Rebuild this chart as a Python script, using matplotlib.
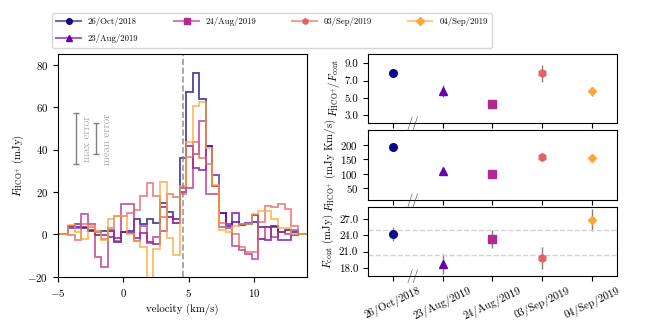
import numpy as np
import matplotlib
matplotlib.use("Agg")
import matplotlib.pyplot as plt
from matplotlib.lines import Line2D
from matplotlib.ticker import FormatStrFormatter

# epochs
dates = ["26/Oct/2018", "23/Aug/2019", "24/Aug/2019", "03/Sep/2019", "04/Sep/2019"]
markers = ["o", "^", "s", "h", "D"]

# HCO+ spectra, channels of 0.5 km/s starting at -4.2 km/s (mJy)
v_start = -4.2
v_width = 0.5
spec_oct18 = [4, 3.5, 3, 1.5, -0.5, 1.5, 1.5, -3.5, 1, 1.5, 7.5, 5, 7.5, 5.5, 15, 10.5, 7.5,
              36, 67, 76, 64, 41.5, 23, 10, 4, 6, 4.5, 5, 6, 3.5, 3.5, 4, 1, 2, 1]
spec_23aug = [3, 5, 3.5, 2, 1, -0.5, -1, -1.5, 1, 0.5, -1.5, 0.5, -3.5, -4.5, 13, 8, 5.5,
              20, 41.5, 31.5, 30.5, 41.5, 28, 10, 5, 10, 5, 5.5, 9, -2, -2.5, 3.5, -2.5, -2.5, -0.5]
spec_24aug = [4, 3, 9.5, 5, -10.5, -15.5, 2, -3, 14.5, 14.5, -3, 4, -4, -1, 1.5, 8, 5.5,
              22, 22, 38, 53.5, 19, 19, 3.5, 3, -5.5, -7.5, -9, -11.5, -2, 3.5, -1, 1, 0, 2]
spec_03sep = [-0.5, -2.5, 5, 3.5, 1.5, -2, 3, 8.5, 8.5, 10, 11.5, 18, 24, 18, 8, 19, 17.5,
              19, 36.5, 43.5, 36, 33, 23, 5.5, 3, 0, -6, -8.5, -8.5, 6, 13.5, 13, 14.5, 12, 4]
spec_04sep = [4.5, 1, -2, 4, 1, -2.5, 7.5, 8.5, 8.5, 0, -3, -6, -25, -7, 24.5, -1.5, -9.5,
              23, 43.5, 60.5, 62.5, 40.5, 23.5, 2, 1, 4, 5, 5, 9.5, 11, 11, 7.5, 3, 3, 0]
spectra = [spec_oct18, spec_23aug, spec_24aug, spec_03sep, spec_04sep]

v_sys = 4.55
max_err = 12.0
mean_err = 7.3
err_level = 45.0

# integrated values per epoch
ratio = [7.9, 5.8, 4.3, 7.85, 5.75]
ratio_err = [0.5, 0.7, 0.35, 1.0, 0.5]
flux = [192, 108, 100, 156, 153]
flux_err = [6, 6, 5, 8, 6]
cont = [24.3, 18.7, 23.3, 19.8, 26.8]
cont_err = [1.3, 1.8, 1.6, 2.1, 2.0]
cont_band = [20.4, 25.0]

plt.rcParams["font.family"] = "serif"
plt.rcParams["font.serif"] = ["cmr10"]
plt.rcParams["mathtext.fontset"] = "cm"
plt.rcParams["axes.formatter.use_mathtext"] = True
plt.rcParams["font.size"] = 7.8
plt.rcParams["axes.unicode_minus"] = True

colors = [plt.cm.plasma(f) for f in [0.0, 0.2, 0.4, 0.6, 0.8]]

fig = plt.figure(figsize=(6.5, 3.25), dpi=100)
ax = fig.add_axes([0.089, 0.148, 0.383, 0.686])

n = len(spec_oct18)
edges = v_start + v_width * np.arange(-2, n + 3)
for spec, c in zip(spectra, colors):
    vals = np.concatenate([[0, 0], spec, [0, 0]])
    ax.stairs(vals, edges, color=c, alpha=0.75, lw=1.3, baseline=None)

ax.axvline(v_sys, color="grey", ls="--", lw=1.2, alpha=0.8)
ax.errorbar([-3.6], [err_level], yerr=[max_err], color="grey", capsize=2.5, lw=1)
ax.errorbar([-2.1], [err_level], yerr=[mean_err], color="grey", capsize=2.5, lw=1)
ax.text(-2.75, err_level, "max error", rotation=90, color="darkgrey", ha="center", va="center")
ax.text(-1.25, err_level, "mean error", rotation=90, color="darkgrey", ha="center", va="center")

ax.set_xlim(-5, 14)
ax.set_ylim(-20, 85)
ax.set_xticks([-5, 0, 5, 10])
ax.set_yticks([-20, 0, 20, 40, 60, 80])
ax.set_xlabel("velocity (km/s)")
ax.set_ylabel(r"$F_{\rm HCO^{+}}$ (mJy)", labelpad=1)

# right column
x = np.arange(len(dates))
ax1 = fig.add_axes([0.566, 0.622, 0.383, 0.212])
ax2 = fig.add_axes([0.566, 0.385, 0.383, 0.215])
ax3 = fig.add_axes([0.566, 0.151, 0.383, 0.212])

for a, vals, errs in [(ax1, ratio, ratio_err), (ax2, flux, flux_err), (ax3, cont, cont_err)]:
    for i in range(len(dates)):
        ms = 4.5 if markers[i] == "D" else 5.5
        a.errorbar(x[i], vals[i], yerr=errs[i], fmt=markers[i], color=colors[i],
                   ecolor="grey", elinewidth=1, ms=ms)
    a.set_xlim(-0.5, 4.5)
    a.set_xticks(x)
    a.text(0.4, 0, "//", transform=a.get_xaxis_transform(), ha="center", va="center",
           fontsize=9, color="#333333")

for yv in cont_band:
    ax3.axhline(yv, color="lightgrey", ls="--", lw=1)

ax1.set_ylim(2.1, 10.1)
ax1.set_yticks([3, 5, 7, 9])
ax1.yaxis.set_major_formatter(FormatStrFormatter("%.1f"))
ax1.set_xticklabels([])
ax1.set_ylabel(r"$F_{\rm HCO^{+}}/F_{\rm cont}$", labelpad=2)

ax2.set_ylim(9, 251)
ax2.set_yticks([50, 100, 150, 200])
ax2.set_xticklabels([])
ax2.set_ylabel(r"$F_{\rm HCO^{+}}$ (mJy Km/s)", labelpad=2)

ax3.set_ylim(16.5, 29.2)
ax3.set_yticks([18, 21, 24, 27])
ax3.yaxis.set_major_formatter(FormatStrFormatter("%.1f"))
ax3.set_xticklabels(dates, rotation=25, ha="center")
ax3.set_ylabel(r"$F_{\rm cont}$ (mJy)", labelpad=2)

handles = []
for c, m in zip(colors, markers):
    handles.append(Line2D([], [], color=(c[0], c[1], c[2], 0.6), lw=1.5, marker=m,
                          ms=4, mfc=c, mec=c))
fig.legend(handles, dates, loc="upper left", bbox_to_anchor=(0.08, 0.85, 0.677, 0.11),
           mode="expand", ncol=4, fontsize=6.3, borderaxespad=0, handlelength=2.8,
           labelspacing=0.9, borderpad=0.5)

fig.savefig("out.png", dpi=100)
